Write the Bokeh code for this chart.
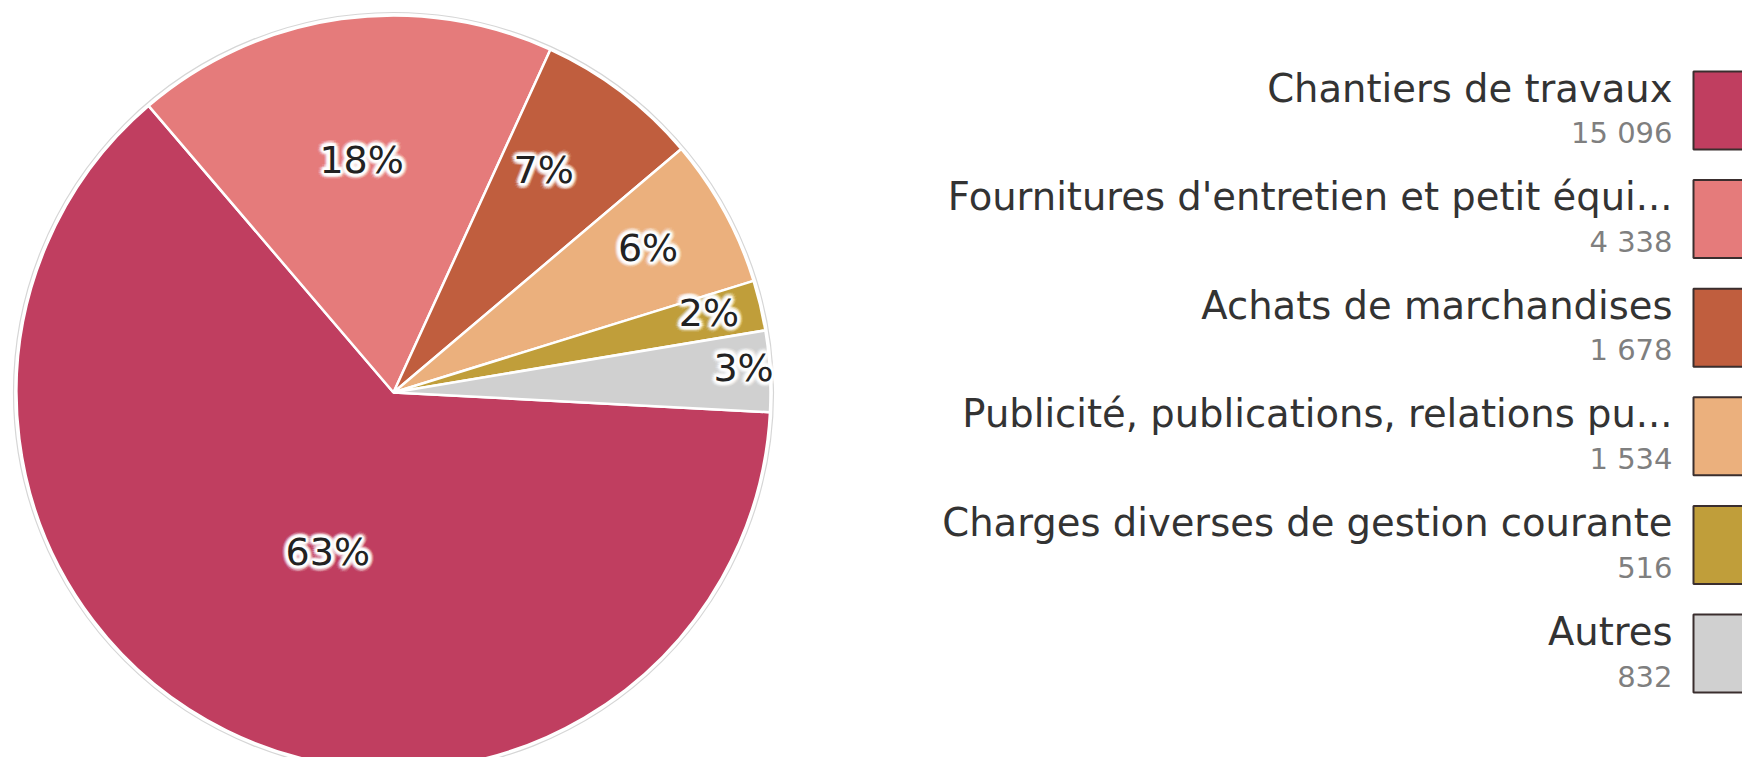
import numpy as np
from bokeh.plotting import figure
from bokeh.models import Range1d, ColumnDataSource
from bokeh.core.properties import value
from bokeh.embed import file_html
from bokeh.resources import INLINE

# ---- data ----
categories = [
    "Chantiers de travaux",
    "Fournitures d'entretien et petit équi...",
    "Achats de marchandises",
    "Publicité, publications, relations pu...",
    "Charges diverses de gestion courante",
    "Autres",
]
amounts = [15096, 4338, 1678, 1534, 516, 832]

# ---- styles ----
colors = ["#C03E60", "#E57B7B", "#C05E3E", "#EBB07D", "#C09E3A", "#D0D0D0"]
label_radius_factor = [0.47, 0.61, 0.70, 0.77, 0.86, 0.93]
label_angle_nudge_deg = [4.5, 0.0, 2.5, 0.0, 0.0, 0.0]
FONT = "DejaVu Sans"

W, H = 1742, 757
p = figure(width=W, height=H, x_range=Range1d(0, W), y_range=Range1d(0, H),
           output_backend="svg", toolbar_location=None, min_border=0,
           x_axis_location=None, y_axis_location=None)
p.grid.visible = False
p.outline_line_color = None
p.background_fill_color = "white"
p.border_fill_color = "white"

# pie geometry (pixel-like data units, y measured from the bottom)
cx, cy, R = 393, H - 392, 377
start0 = np.deg2rad(-3.0)

vals = np.array(amounts, dtype=float)
total = vals.sum()
frac = vals / total
cum = np.concatenate([[0.0], np.cumsum(frac)])
a_hi = start0 - cum[:-1] * 2 * np.pi
a_lo = start0 - cum[1:] * 2 * np.pi
mid = (a_hi + a_lo) / 2 + np.deg2rad(label_angle_nudge_deg)

src = ColumnDataSource(dict(x=[cx] * len(vals), y=[cy] * len(vals),
                            start=a_lo, end=a_hi, color=colors))

# faint outer ring
p.circle(x=[cx], y=[cy], radius=R + 3, fill_color=None,
         line_color="#d6d6d6", line_width=1.2)
p.wedge(x="x", y="y", radius=R, start_angle="start", end_angle="end",
        direction="anticlock", fill_color="color", line_color="white",
        line_width=2.5, source=src)

# percentage labels with white glow
lr = np.array(label_radius_factor) * R
lx = cx + lr * np.cos(mid)
ly = cy + lr * np.sin(mid)
pct = [f"{int(round(f * 100))}%" for f in frac]
lsrc = ColumnDataSource(dict(x=lx, y=ly, t=pct))
LBL_DY = -5
for rad, alpha in [(6, 0.12), (4.5, 0.22), (3.2, 0.35), (2.0, 0.55), (1.0, 0.75)]:
    for ang in np.linspace(0, 2 * np.pi, 16, endpoint=False):
        p.text(x="x", y="y", text="t", source=lsrc,
               x_offset=rad * np.cos(ang), y_offset=LBL_DY + rad * np.sin(ang),
               text_font=value(FONT), text_font_size="38px",
               text_color="white", text_alpha=alpha,
               text_align="center", text_baseline="middle")
p.text(x="x", y="y", text="t", source=lsrc, y_offset=LBL_DY,
       text_font=value(FONT), text_font_size="38px", text_color="#222222",
       text_align="center", text_baseline="middle")

# legend on the right
n = len(categories)
row_top = H - (71 + np.arange(n) * 108.6)   # top of swatches (data units)
sw_h = 78
sw_left, sw_right = 1693, 1800
text_right = 1672

p.quad(left=[sw_left] * n, right=[sw_right] * n, top=row_top, bottom=row_top - sw_h,
       fill_color=colors, line_color="#3a2e2e", line_width=2)

labels_src = ColumnDataSource(dict(x=[text_right] * n, y=row_top - 16.5, t=categories))
p.text(x="x", y="y", text="t", source=labels_src, text_font=value(FONT),
       text_font_size="38.5px", text_color="#333333", text_align="right",
       text_baseline="middle")

amount_txt = [f"{a:,}".replace(",", " ") for a in amounts]
values_src = ColumnDataSource(dict(x=[text_right] * n, y=row_top - 61.5, t=amount_txt))
p.text(x="x", y="y", text="t", source=values_src, text_font=value(FONT),
       text_font_size="29px", text_color="#7f7f7f", text_align="right",
       text_baseline="middle")

open("out.html", "w").write(file_html(p, INLINE))
